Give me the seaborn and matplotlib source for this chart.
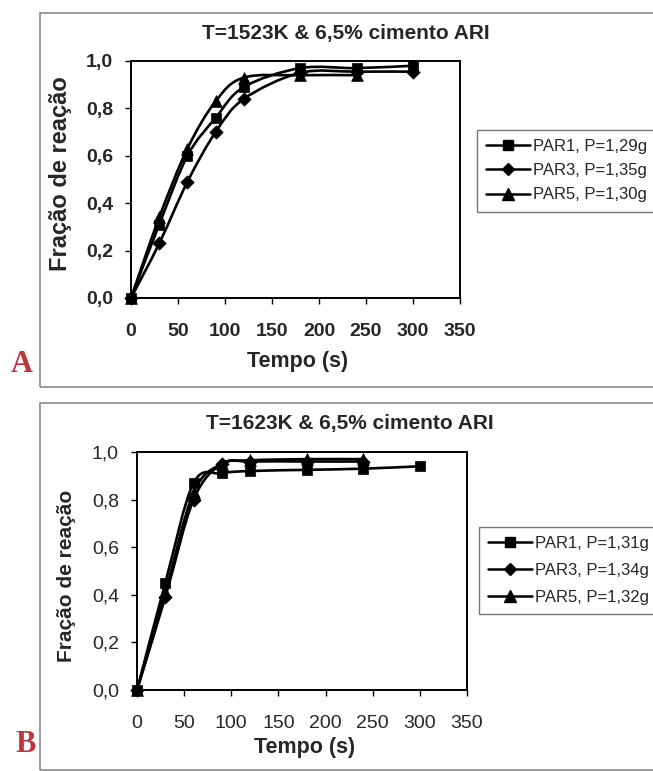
import numpy as np
import pandas as pd
import seaborn as sns
import matplotlib
matplotlib.use("Agg")
import matplotlib.pyplot as plt
from matplotlib.path import Path
from matplotlib.patches import PathPatch, Rectangle
from matplotlib.lines import Line2D

# ---- data -------------------------------------------------------------
tempo = [0, 30, 60, 90, 120, 180, 240, 300]

# T = 1523 K
par1_a = [0.00, 0.31, 0.60, 0.76, 0.89, 0.97, 0.97, 0.98]
par3_a = [0.00, 0.23, 0.49, 0.70, 0.84, 0.95, 0.955, 0.955]
par5_a = [0.00, 0.34, 0.63, 0.83, 0.93, 0.94, 0.94]

# T = 1623 K
par1_b = [0.00, 0.45, 0.87, 0.91, 0.92, 0.925, 0.93, 0.94]
par3_b = [0.00, 0.39, 0.80, 0.95, 0.96, 0.96, 0.96]
par5_b = [0.00, 0.41, 0.83, 0.95, 0.965, 0.97, 0.97]

labels_a = ["PAR1, P=1,29g", "PAR3, P=1,35g", "PAR5, P=1,30g"]
labels_b = ["PAR1, P=1,31g", "PAR3, P=1,34g", "PAR5, P=1,32g"]
titles = ["T=1523K & 6,5% cimento ARI", "T=1623K & 6,5% cimento ARI"]
panel_tags = ["A", "B"]

x_ticks = [0, 50, 100, 150, 200, 250, 300, 350]
y_ticks = [0.0, 0.2, 0.4, 0.6, 0.8, 1.0]
y_ticklabels = ["0,0", "0,2", "0,4", "0,6", "0,8", "1,0"]

marker_shapes = ["s", "D", "^"]
marker_sizes = [62, 46, 72]

# ---- style ------------------------------------------------------------
sns.set_theme(style="white")
plt.rcParams["font.family"] = ["Liberation Sans", "DejaVu Sans"]

W, H = 653, 771
fig = plt.figure(figsize=(W / 100, H / 100), dpi=100)
fig.patch.set_facecolor("white")


def fx(px):
    return px / W


def fy(py):
    return 1 - py / H


def smooth_path(x, y):
    """Cubic Bezier path through the points (Catmull-Rom style smoothing)."""
    pts = np.column_stack([x, y]).astype(float)
    n = len(pts)
    verts = [pts[0]]
    codes = [Path.MOVETO]
    for i in range(n - 1):
        p0 = pts[i - 1] if i > 0 else pts[i]
        p1 = pts[i]
        p2 = pts[i + 1]
        p3 = pts[i + 2] if i + 2 < n else pts[i + 1]
        c1 = p1 + (p2 - p0) / 6.0
        c2 = p2 - (p3 - p1) / 6.0
        verts += [c1, c2, p2]
        codes += [Path.CURVE4] * 3
    return Path(verts, codes)


def draw_panel(ax, series, labels, title, frame, title_xy, legend_xy,
               leg_spacing, tick_weight, xlabel_y, ylabel_x, ylabel_size):
    rows = []
    for lab, ys in zip(labels, series):
        for t, v in zip(tempo, ys):
            rows.append({"Tempo": t, "Fracao": v, "serie": lab})
    df = pd.DataFrame(rows)

    for lab, ys in zip(labels, series):
        ax.add_patch(PathPatch(smooth_path(tempo[:len(ys)], ys),
                               facecolor="none", edgecolor="black",
                               lw=1.9, zorder=2))

    for lab, m, s in zip(labels, marker_shapes, marker_sizes):
        sub = df[df["serie"] == lab]
        sns.scatterplot(data=sub, x="Tempo", y="Fracao", marker=m, s=s,
                        color="black", edgecolor="black", linewidth=0.5,
                        legend=False, ax=ax, zorder=3, clip_on=False)

    ax.set_xlim(0, 350)
    ax.set_ylim(0, 1.0)
    ax.set_xticks(x_ticks)
    ax.set_xticklabels([str(v) for v in x_ticks], fontsize=14,
                       fontweight=tick_weight)
    ax.set_yticks(y_ticks)
    ax.set_yticklabels(y_ticklabels, fontsize=14, fontweight=tick_weight)
    ax.tick_params(direction="out", length=4, width=1, color="black",
                   left=True, bottom=True)
    ax.tick_params(axis="x", pad=14)
    ax.tick_params(axis="y", pad=9)
    for sp in ax.spines.values():
        sp.set_visible(True)
        sp.set_color("black")
        sp.set_linewidth(1.4)
    ax.set_xlabel("")
    ax.set_ylabel("")
    ax.set_facecolor("white")

    fig.text(title_xy[0], title_xy[1], title, ha="center", va="center",
             fontsize=15, fontweight="bold")
    fig.text(ylabel_x[0], ylabel_x[1], "Fração de reação", rotation=90,
             ha="center", va="center", fontsize=ylabel_size,
             fontweight="bold")
    fig.text(xlabel_y[0], xlabel_y[1], "Tempo (s)", ha="center",
             va="center", fontsize=15.5, fontweight="bold")

    handles = [Line2D([], [], color="black", lw=1.8, marker=m,
                      markersize=ms, markerfacecolor="black")
               for m, ms in zip(marker_shapes, [7.5, 6.5, 8])]
    leg = fig.legend(handles, labels, loc="upper left",
                     bbox_to_anchor=legend_xy, borderaxespad=0,
                     fontsize=12, frameon=True,
                     fancybox=False, edgecolor="#555555",
                     handlelength=2.6, handletextpad=0.2,
                     borderpad=0.55, labelspacing=leg_spacing)
    leg.get_frame().set_linewidth(1.0)

    # outer chart border
    x0, y0, y1 = frame
    fig.add_artist(Rectangle((fx(x0), fy(y1)), 1.2, fy(y0) - fy(y1),
                             transform=fig.transFigure, fill=False,
                             edgecolor="#8a8a8a", lw=1.2, clip_on=False))


ax_a = fig.add_axes([fx(131), fy(298), fx(460) - fx(131), fy(61) - fy(298)])
draw_panel(ax_a, [par1_a, par3_a, par5_a], labels_a, titles[0],
           frame=(40, 13, 387), title_xy=(fx(346), fy(33)),
           legend_xy=(fx(477), fy(130)), leg_spacing=0.55,
           tick_weight="bold", xlabel_y=(fx(298), fy(361)),
           ylabel_x=(fx(60), fy(174)), ylabel_size=17)

ax_b = fig.add_axes([fx(137), fy(690), fx(467) - fx(137), fy(452) - fy(690)])
draw_panel(ax_b, [par1_b, par3_b, par5_b], labels_b, titles[1],
           frame=(40, 403, 770), title_xy=(fx(350), fy(423)),
           legend_xy=(fx(479), fy(527)), leg_spacing=0.72,
           tick_weight="normal", xlabel_y=(fx(305), fy(748)),
           ylabel_x=(fx(66), fy(576)), ylabel_size=15)

for tag, (px, py) in zip(panel_tags, [(22, 365), (26, 744)]):
    fig.text(fx(px), fy(py), tag, ha="center", va="center", fontsize=22,
             fontweight="bold", color="#c0353d",
             family=["Liberation Serif", "DejaVu Serif"])

fig.savefig("out.png", dpi=100, facecolor="white")
